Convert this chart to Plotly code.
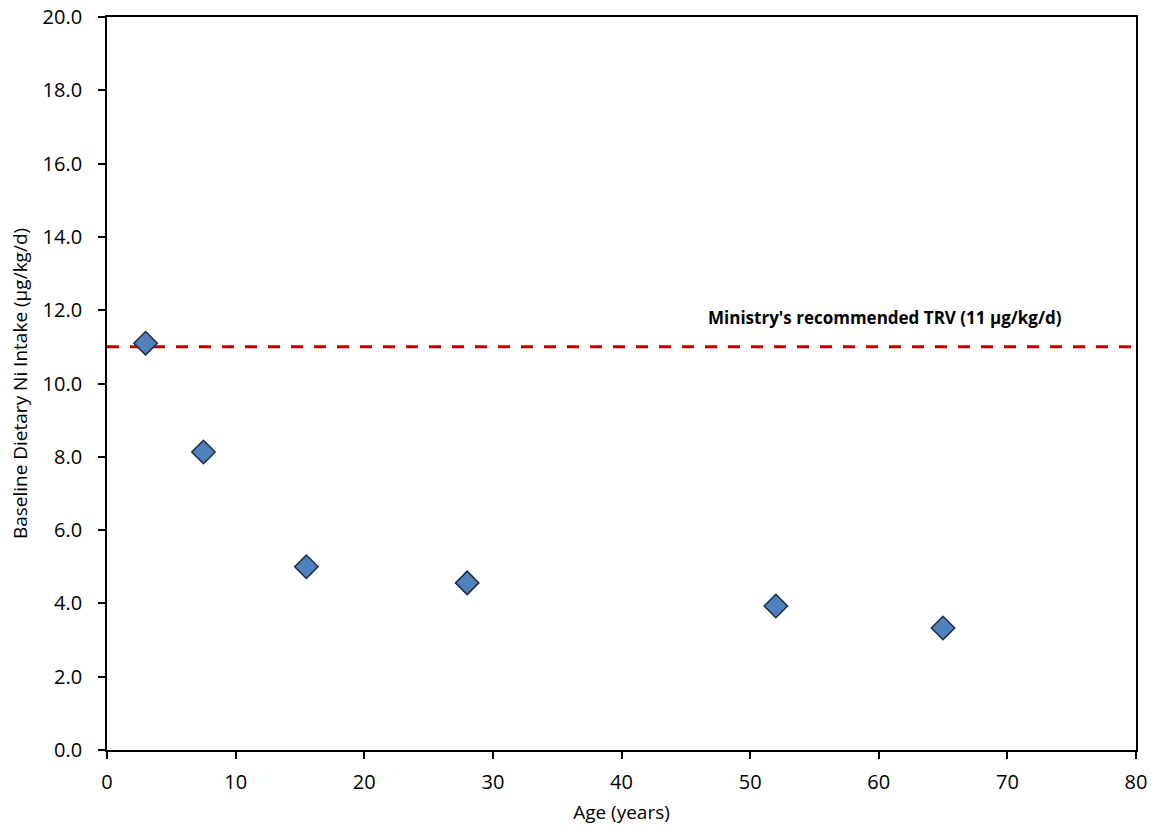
import plotly.graph_objects as go

# Baseline dietary nickel intake by age
age_years = [3, 7.5, 15.5, 28, 52, 65]
ni_intake = [11.1, 8.13, 5.0, 4.56, 3.93, 3.33]

trv_value = 11.0
trv_label = "Ministry's recommended TRV (11 µg/kg/d)"

x_range = [0, 80]
y_range = [0, 20]
y_ticks = [0, 2, 4, 6, 8, 10, 12, 14, 16, 18, 20]

font_family = "'Open Sans', Lato, sans-serif"

fig = go.Figure()

fig.add_trace(go.Scatter(
    x=x_range,
    y=[trv_value, trv_value],
    mode="lines",
    line=dict(color="#C00000", width=3, dash="12px,11px"),
    hoverinfo="skip",
    showlegend=False,
))

fig.add_trace(go.Scatter(
    x=age_years,
    y=ni_intake,
    mode="markers",
    marker=dict(symbol="diamond", size=18, color="#4F81BD",
                line=dict(color="#1F2A44", width=1.5)),
    showlegend=False,
))

fig.add_annotation(
    x=60.5, y=11.8, xref="x", yref="y",
    text="<b>" + trv_label + "</b>",
    showarrow=False,
    font=dict(family=font_family, size=17, color="#000000"),
)

fig.update_layout(
    width=1156, height=829,
    margin=dict(l=107, r=20, t=17, b=79, autoexpand=False),
    paper_bgcolor="white",
    plot_bgcolor="white",
    font=dict(family=font_family, size=20, color="#000000"),
)

fig.update_xaxes(
    range=x_range, dtick=10, tick0=0, automargin=False,
    showgrid=False, zeroline=False,
    showline=True, linecolor="#000000", linewidth=1.8, mirror=True,
    ticks="outside", ticklen=7, tickcolor="#000000", tickwidth=1.8,
    tickfont=dict(size=20), ticklabelstandoff=6,
    title=dict(text="Age (years)", font=dict(size=19), standoff=12),
)

fig.update_yaxes(
    range=y_range, tickvals=y_ticks, automargin=False,
    ticktext=[f"{v:.1f}" for v in y_ticks],
    showgrid=False, zeroline=False,
    showline=True, linecolor="#000000", linewidth=1.8, mirror=True,
    ticks="outside", ticklen=7, tickcolor="#000000", tickwidth=1.8,
    tickfont=dict(size=20), ticklabelstandoff=12,
    title=dict(text="Baseline Dietary Ni Intake (µg/kg/d)", font=dict(size=19), standoff=10),
)

fig.write_html("out.html")
